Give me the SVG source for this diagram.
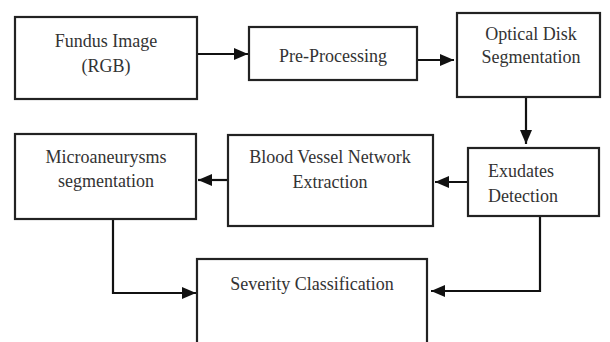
<svg xmlns="http://www.w3.org/2000/svg" width="610" height="342" viewBox="0 0 610 342">
<defs>
<style>
.box{fill:#fff;stroke:#222;stroke-width:2.2}
.t{font-size:18px;fill:#333;text-anchor:middle}
.c{fill:none;stroke:#111;stroke-width:2.2}
</style>
<marker id="ah" viewBox="0 0 14 12" refX="14" refY="6" markerWidth="14" markerHeight="12" markerUnits="userSpaceOnUse" orient="auto">
<path d="M0,0 L14,6 L0,12 Z" fill="#111"/>
</marker>
</defs>
<rect width="610" height="342" fill="#fff"/>
<g id="connectors">
<line class="c" x1="197" y1="54" x2="248" y2="54" marker-end="url(#ah)"/>
<line class="c" x1="417" y1="60" x2="454" y2="60" marker-end="url(#ah)"/>
<line class="c" x1="526" y1="97" x2="526" y2="144" marker-end="url(#ah)"/>
<line class="c" x1="468" y1="182" x2="435" y2="182" marker-end="url(#ah)"/>
<line class="c" x1="228" y1="180" x2="198" y2="180" marker-end="url(#ah)"/>
<polyline class="c" points="113,219 113,293 196,293" marker-end="url(#ah)"/>
<polyline class="c" points="540,216 540,291 431,291" marker-end="url(#ah)"/>
</g>
<g font-family="'Liberation Serif', 'Times New Roman', serif">
<g id="fundus">
<rect class="box" x="15" y="17" width="182" height="82"/>
<text class="t" x="106" y="47">Fundus Image</text>
<text class="t" x="106" y="72">(RGB)</text>
</g>
<g id="preprocessing">
<rect class="box" x="249" y="27" width="168" height="53"/>
<text class="t" x="333" y="62">Pre-Processing</text>
</g>
<g id="optical">
<rect class="box" x="457" y="13" width="143" height="84"/>
<text class="t" x="531" y="40">Optical Disk</text>
<text class="t" x="531" y="63">Segmentation</text>
</g>
<g id="exudates">
<rect class="box" x="468" y="148" width="131" height="68"/>
<text class="t" x="488" y="177" text-anchor="start" style="text-anchor:start">Exudates</text>
<text class="t" x="488" y="202" style="text-anchor:start">Detection</text>
</g>
<g id="bloodvessel">
<rect class="box" x="228" y="135" width="205" height="91"/>
<text class="t" x="330" y="163">Blood Vessel Network</text>
<text class="t" x="330" y="188">Extraction</text>
</g>
<g id="micro">
<rect class="box" x="15" y="134" width="181" height="85"/>
<text class="t" x="106" y="163">Microaneurysms</text>
<text class="t" x="106" y="187">segmentation</text>
</g>
<g id="severity">
<rect class="box" x="197" y="259" width="230" height="100"/>
<text class="t" x="312" y="290">Severity Classification</text>
</g>
</g>
</svg>
